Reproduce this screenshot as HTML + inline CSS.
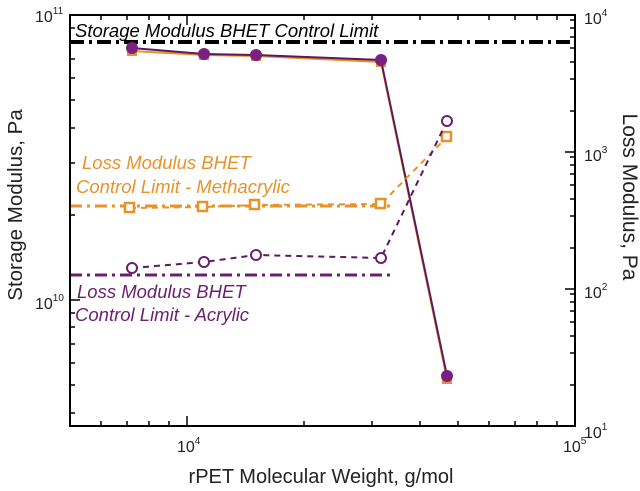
<!DOCTYPE html>
<html><head><meta charset="utf-8"><style>
html,body{margin:0;padding:0;background:#fff;}
svg{display:block;font-family:"Liberation Sans",Arial,sans-serif;}
</style></head><body>
<svg width="640" height="491" viewBox="0 0 640 491" xmlns="http://www.w3.org/2000/svg">
<rect width="640" height="491" fill="#fff"/>
<line x1="70" y1="42" x2="575" y2="42" stroke="#000" stroke-width="4" stroke-dasharray="14,5,3,5"/>
<line x1="70" y1="206" x2="392" y2="206" stroke="#e8922a" stroke-width="3" stroke-dasharray="12,5,3,5"/>
<line x1="70" y1="275" x2="392" y2="275" stroke="#6a1f70" stroke-width="3" stroke-dasharray="12,5,3,5"/>
<polyline points="132,51 204,55 256,56 381,62 447,379" fill="none" stroke="#e8922a" stroke-width="2"/>
<g fill="#e8922a"><rect x="127" y="46" width="10" height="10"/><rect x="199" y="50" width="10" height="10"/><rect x="251" y="51" width="10" height="10"/><rect x="376" y="57" width="10" height="10"/><rect x="442" y="374" width="10" height="10"/></g>
<polyline points="132,48 204,54 256,55 381,60 447,376" fill="none" stroke="#5a1a5e" stroke-width="2"/>
<g fill="#7b1f80"><circle cx="132" cy="48" r="6"/><circle cx="204" cy="54" r="6"/><circle cx="256" cy="55" r="6"/><circle cx="381" cy="60" r="6"/><circle cx="447" cy="376" r="6"/></g>
<polyline points="130,208 203,207 255,205 381,204 447,137" fill="none" stroke="#e8922a" stroke-width="2" stroke-dasharray="6,5"/>
<g fill="#fff" stroke="#e8922a" stroke-width="2.5"><rect x="125" y="203" width="9" height="9"/><rect x="198" y="202" width="9" height="9"/><rect x="250" y="200" width="9" height="9"/><rect x="376" y="199" width="9" height="9"/><rect x="442" y="132" width="9" height="9"/></g>
<polyline points="132,268 204,262 256,255 381,258 447,121" fill="none" stroke="#5a1a5e" stroke-width="2" stroke-dasharray="6,5"/>
<g fill="#fff" stroke="#6a1f70" stroke-width="2"><circle cx="132" cy="268" r="5"/><circle cx="204" cy="262" r="5"/><circle cx="256" cy="255" r="5"/><circle cx="381" cy="258" r="5"/><circle cx="447" cy="121" r="5"/></g>
<rect x="70" y="15" width="505" height="411" fill="none" stroke="#000" stroke-width="2"/>
<g stroke="#000" stroke-width="1.5">
<line x1="187" y1="426" x2="187" y2="416"/><line x1="187" y1="15" x2="187" y2="25"/>
<path d="M101 426v-5M127 426v-5M149 426v-5M169 426v-5M304 426v-5M372 426v-5M420 426v-5M458 426v-5M489 426v-5M515 426v-5M537 426v-5M557 426v-5"/>
<path d="M101 15v5M127 15v5M149 15v5M169 15v5M304 15v5M372 15v5M420 15v5M458 15v5M489 15v5M515 15v5M537 15v5M557 15v5"/>
<line x1="70" y1="300" x2="80" y2="300"/>
<path d="M70 28h5M70 42h5M70 59h5M70 78h5M70 100h5M70 128h5M70 163h5M70 215h5M70 313h5M70 327h5M70 344h5M70 363h5M70 385h5M70 413h5"/>
<line x1="575" y1="152" x2="565" y2="152"/><line x1="575" y1="289" x2="565" y2="289"/>
<path d="M575 20h-5M575 28h-5M575 37h-5M575 48h-5M575 62h-5M575 79h-5M575 111h-5
M575 157h-5M575 165h-5M575 174h-5M575 185h-5M575 199h-5M575 216h-5M575 248h-5
M575 294h-5M575 302h-5M575 311h-5M575 322h-5M575 336h-5M575 353h-5M575 385h-5"/>
</g>
<g font-size="16" fill="#222">
<text x="35" y="22">10<tspan font-size="10" dy="-8">11</tspan></text>
<text x="35" y="309">10<tspan font-size="10" dy="-8">10</tspan></text>
<text x="584" y="24">10<tspan font-size="10" dy="-8">4</tspan></text>
<text x="584" y="161">10<tspan font-size="10" dy="-8">3</tspan></text>
<text x="584" y="298">10<tspan font-size="10" dy="-8">2</tspan></text>
<text x="584" y="438">10<tspan font-size="10" dy="-8">1</tspan></text>
<text x="177" y="452">10<tspan font-size="10" dy="-8">4</tspan></text>
<text x="563" y="452">10<tspan font-size="10" dy="-8">5</tspan></text>
</g>
<text x="321" y="483" font-size="20" text-anchor="middle" fill="#222">rPET Molecular Weight, g/mol</text>
<text transform="translate(22,205) rotate(-90)" font-size="20.5" text-anchor="middle" fill="#222">Storage Modulus, Pa</text>
<text transform="translate(623,197) rotate(90)" font-size="21" text-anchor="middle" fill="#222">Loss Modulus, Pa</text>
<g font-style="italic" font-size="18.5">
<text x="75" y="37" fill="#000">Storage Modulus BHET Control Limit</text>
<text x="82" y="169" fill="#e8922a">Loss Modulus BHET</text>
<text x="76" y="193" fill="#e8922a">Control Limit - Methacrylic</text>
<text x="77" y="298" fill="#6a1f70">Loss Modulus BHET</text>
<text x="75" y="321" fill="#6a1f70">Control Limit - Acrylic</text>
</g>
</svg>
</body></html>
